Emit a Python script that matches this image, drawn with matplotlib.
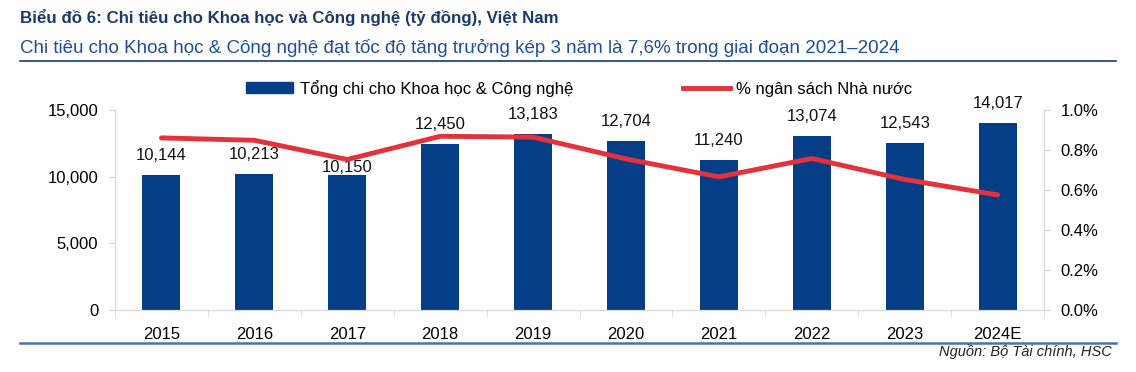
import matplotlib.pyplot as plt
import numpy as np
from matplotlib.lines import Line2D
from matplotlib.patches import Patch

plt.rcParams['font.family'] = ['Liberation Sans', 'DejaVu Sans']

# data
years = ["2015", "2016", "2017", "2018", "2019", "2020", "2021", "2022", "2023", "2024E"]
spend = [10144, 10213, 10150, 12450, 13183, 12704, 11240, 13074, 12543, 14017]
pct_budget = [0.86, 0.848, 0.752, 0.868, 0.864, 0.755, 0.665, 0.757, 0.652, 0.575]

bar_color = "#053E86"
line_color = "#E5313B"
title_color = "#1B3A6B"
sub_color = "#1F4E99"
fs = 12

fig = plt.figure(figsize=(11.36, 3.72), dpi=100)
ax = fig.add_axes([0.1012, 0.167, 0.8179, 0.5376])
ax2 = ax.twinx()

x = np.arange(len(years))
ax.bar(x, spend, width=0.41, color=bar_color, zorder=2)
ax2.plot(x, np.array(pct_budget) / 100, color=line_color, lw=3.5, zorder=3,
         solid_capstyle="round")

# bar labels (2017 label sits closer to its bar in the original)
for i, v in enumerate(spend):
    off = 550 if years[i] == "2017" else 1450
    ax.text(i, v + off, f"{v:,}", ha="center", va="center", fontsize=fs, color="#111111", zorder=5)

ax.set_xlim(-0.5, len(years) - 0.5)
ax.set_ylim(0, 15000)
ax.set_yticks([0, 5000, 10000, 15000])
ax.set_yticklabels(["0", "5,000", "10,000", "15,000"])
ax2.set_ylim(0, 0.01)
ax2.set_yticks([0, 0.002, 0.004, 0.006, 0.008, 0.01])
ax2.set_yticklabels(["0.0%", "0.2%", "0.4%", "0.6%", "0.8%", "1.0%"])

ax.set_xticks(x)
ax.set_xticklabels(years)
ax.set_xticks(np.arange(-0.5, len(years)), minor=True)
ax.tick_params(axis="x", which="major", length=0, pad=12, labelsize=fs)
ax.tick_params(axis="x", which="minor", length=5, color="#D9D9D9", direction="out")
ax.tick_params(axis="y", length=5, color="#D9D9D9", labelsize=fs, pad=7)
ax2.tick_params(axis="y", length=5, color="#D9D9D9", labelsize=fs, pad=7)

for a in (ax, ax2):
    a.spines["top"].set_visible(False)
    for s in ["left", "right", "bottom"]:
        a.spines[s].set_color("#D9D9D9")

handles = [Patch(color=bar_color), Line2D([0], [0], color=line_color, lw=3.5)]
labels = ["Tổng chi cho Khoa học & Công nghệ", "% ngân sách Nhà nước"]
fig.legend(handles, labels, loc="center", bbox_to_anchor=(0.51, 0.763), ncol=2, frameon=False,
           fontsize=fs, columnspacing=6.6, handlelength=2.8, handleheight=0.6, handletextpad=0.4)

# titles
fig.text(0.0176, 0.952, "Biểu đồ 6: Chi tiêu cho Khoa học và Công nghệ (tỷ đồng), Việt Nam",
         fontsize=12.2, fontweight="bold", color=title_color, va="center")
fig.text(0.0176, 0.871, "Chi tiêu cho Khoa học & Công nghệ đạt tốc độ tăng trưởng kép 3 năm là 7,6% trong giai đoạn 2021–2024",
         fontsize=13.5, color=sub_color, va="center")
fig.add_artist(Line2D([0.0176, 0.982], [0.836, 0.836], color="#1B3A6B", lw=1.2))
fig.add_artist(Line2D([0.0176, 0.982], [0.078, 0.078], color="#4A72B0", lw=1.8))
fig.text(0.979, 0.054, "Nguồn: Bộ Tài chính, HSC", fontsize=10.5, style="italic",
         ha="right", va="center", color="#222222")

fig.savefig("out.png", dpi=100)
